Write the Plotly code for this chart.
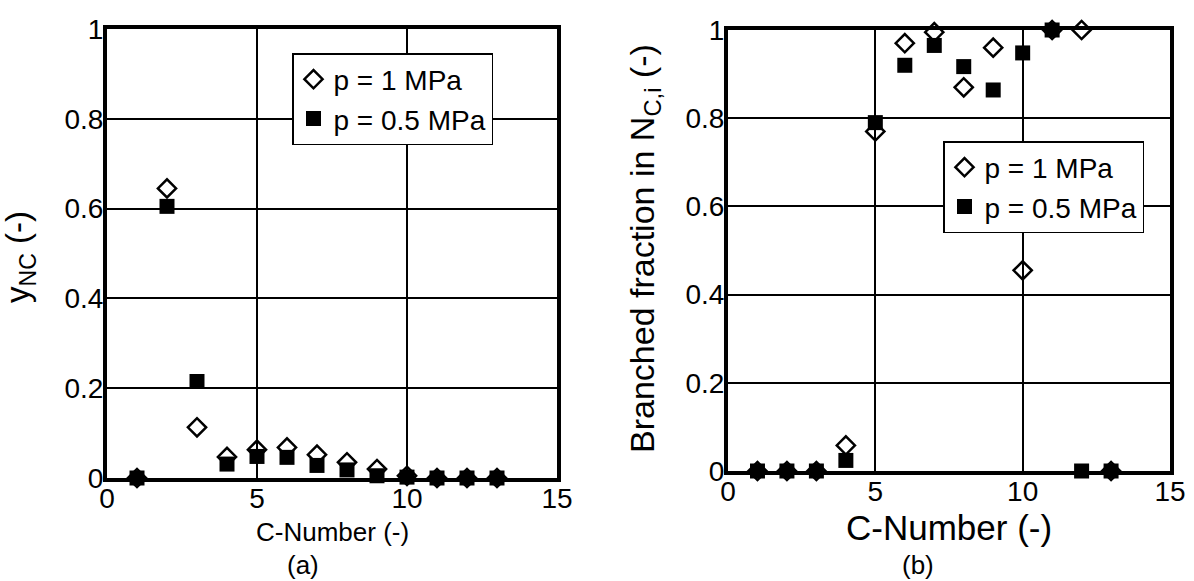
import plotly.graph_objects as go

# ---- data ----
c_number = [1, 2, 3, 4, 5, 6, 7, 8, 9, 10, 11, 12, 13]
y_nc_1mpa = [0, 0.645, 0.113, 0.047, 0.063, 0.068, 0.052, 0.035, 0.02, 0.005, 0, 0, 0]
y_nc_05mpa = [0, 0.605, 0.215, 0.031, 0.048, 0.046, 0.028, 0.018, 0.005, 0.002, 0, 0, 0]
branched_1mpa = [0, 0, 0, 0.058, 0.77, 0.97, 0.995, 0.87, 0.96, 0.455, 1.0, 1.0, 0]
branched_05mpa = [0, 0, 0, 0.024, 0.79, 0.92, 0.965, 0.917, 0.864, 0.948, 1.0, 0, 0]
label_1mpa = "p = 1 MPa"
label_05mpa = "p = 0.5 MPa"
x_ticks = [0, 5, 10, 15]
y_ticks = [0, 0.2, 0.4, 0.6, 0.8, 1]
y_ticklabels = ["0", "0.2", "0.4", "0.6", "0.8", "1"]

W, H = 1194, 581
FONT = "Arial, Liberation Sans, sans-serif"


def px(x):
    return x / W


def py(y):
    return 1 - y / H


diamond = dict(symbol="diamond-open", size=14, color="black", line=dict(color="black", width=2.5))
square = dict(symbol="square", size=15, color="black", line=dict(color="black", width=0))

fig = go.Figure()
fig.add_trace(go.Scatter(x=c_number, y=y_nc_1mpa, mode="markers", marker=diamond, name=label_1mpa,
                         xaxis="x", yaxis="y", legend="legend", cliponaxis=False))
fig.add_trace(go.Scatter(x=c_number, y=y_nc_05mpa, mode="markers", marker=square, name=label_05mpa,
                         xaxis="x", yaxis="y", legend="legend", cliponaxis=False))
fig.add_trace(go.Scatter(x=c_number, y=branched_1mpa, mode="markers", marker=diamond, name=label_1mpa,
                         xaxis="x2", yaxis="y2", legend="legend2", cliponaxis=False))
fig.add_trace(go.Scatter(x=c_number, y=branched_05mpa, mode="markers", marker=square, name=label_05mpa,
                         xaxis="x2", yaxis="y2", legend="legend2", cliponaxis=False))

axis_common = dict(showline=True, linecolor="black", linewidth=4, mirror=True,
                   showgrid=True, gridcolor="black", gridwidth=2, zeroline=False,
                   ticks="", automargin=False,
                   tickfont=dict(family=FONT, size=28, color="black"))
x_common = dict(range=[0, 15], tickvals=x_ticks, ticklabelstandoff=-8, **axis_common)
y_common = dict(range=[0, 1], tickvals=y_ticks, ticktext=y_ticklabels, ticklabelstandoff=-6, **axis_common)
legend_common = dict(xanchor="left", yanchor="top", bgcolor="white", bordercolor="black", borderwidth=1.5,
                     font=dict(family=FONT, size=28, color="black"), itemwidth=30, tracegroupgap=0)

fig.update_layout(
    width=W, height=H,
    margin=dict(l=0, r=0, t=0, b=0, autoexpand=False),
    paper_bgcolor="white", plot_bgcolor="white",
    font=dict(family=FONT, color="black"),
    xaxis=dict(domain=[px(107), px(557)], anchor="y", **x_common),
    yaxis=dict(domain=[py(478), py(29)], anchor="x", **y_common),
    xaxis2=dict(domain=[px(728), px(1170)], anchor="y2", **x_common),
    yaxis2=dict(domain=[py(471), py(30)], anchor="x2", **y_common),
    legend=dict(x=px(292), y=py(53), **legend_common),
    legend2=dict(x=px(943), y=py(141), **legend_common),
    showlegend=True,
)

annots = [
    dict(text="C-Number (-)", x=px(332), y=py(532), size=26, angle=0),
    dict(text="C-Number (-)", x=px(949), y=py(527), size=35, angle=0),
    dict(text="(a)", x=px(303), y=py(565), size=26, angle=0),
    dict(text="(b)", x=px(918), y=py(565), size=26, angle=0),
    dict(text="y<sub>NC</sub> (-)", x=px(20), y=py(257), size=33, angle=-90),
    dict(text="Branched fraction in N<sub>C,i</sub> (-)", x=px(645), y=py(248), size=34, angle=-90),
]
for a in annots:
    fig.add_annotation(text=a["text"], x=a["x"], y=a["y"], xref="paper", yref="paper",
                       xanchor="center", yanchor="middle", showarrow=False, textangle=a["angle"],
                       font=dict(family=FONT, size=a["size"], color="black"))

fig.write_html("out.html", config={"displayModeBar": False},
               post_script="document.body.style.margin='0';document.body.style.overflow='hidden';")
